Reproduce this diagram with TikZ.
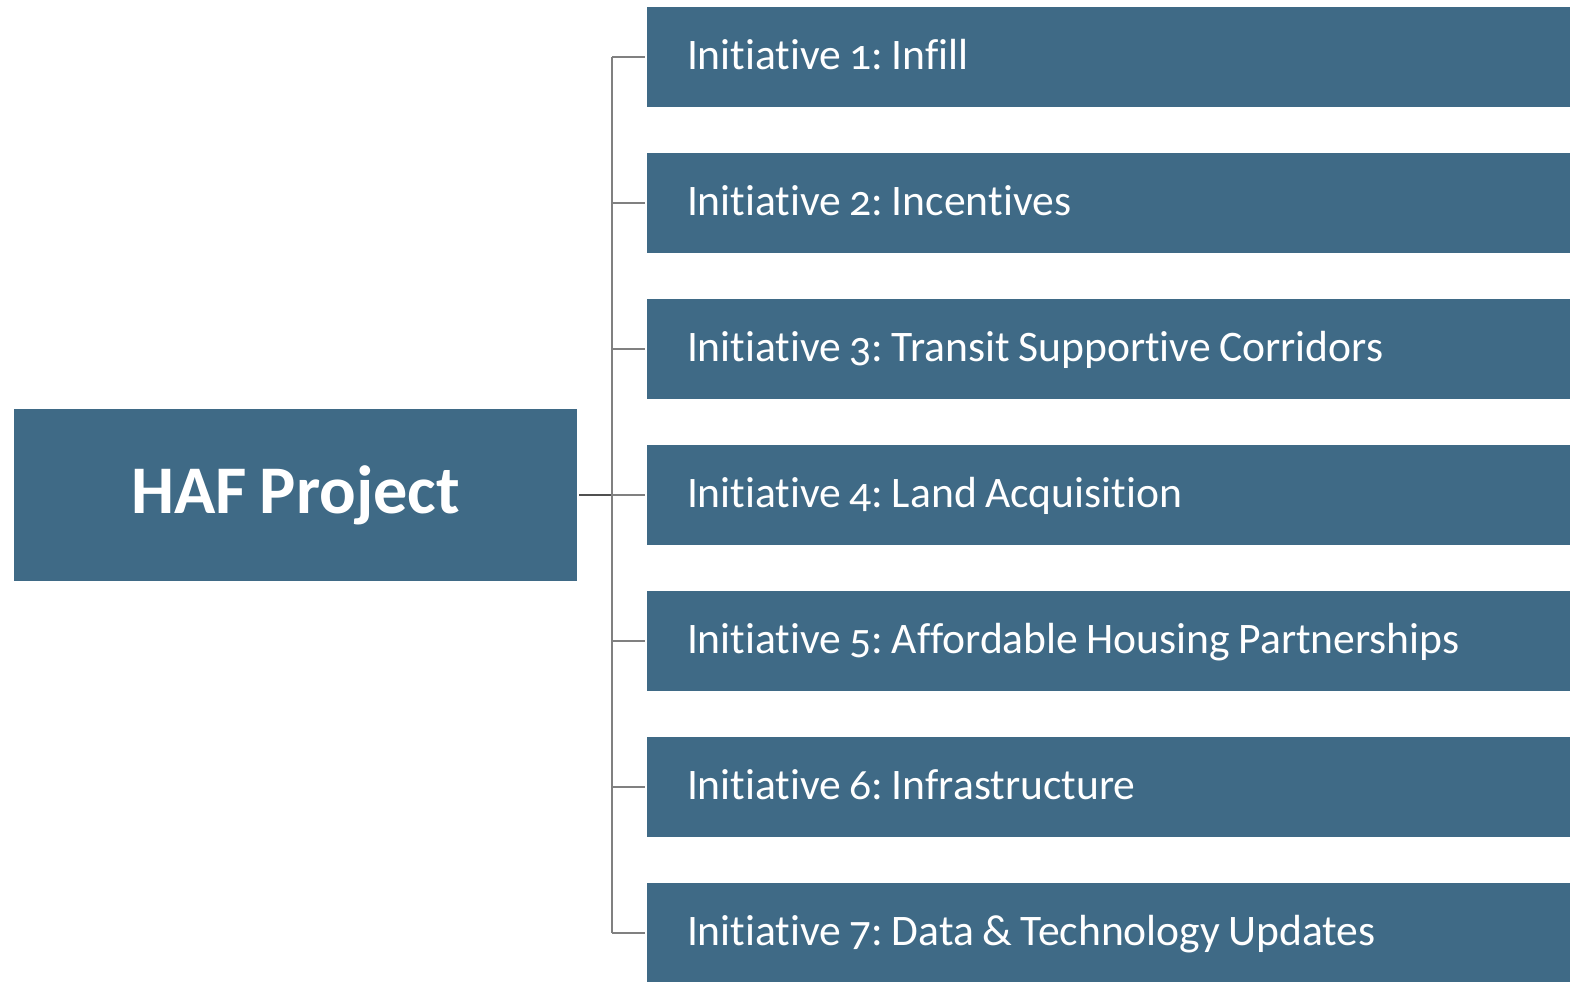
\documentclass[tikz,border=0pt]{standalone}
\usepackage{fontspec}
\setmainfont{Carlito}[Numbers=OldStyle,Ligatures=NoCommon,WordSpace=0.85]
\usetikzlibrary{positioning}
\definecolor{boxblue}{HTML}{3F6A86}
\definecolor{linegray}{HTML}{808080}
\definecolor{stubgray}{HTML}{505050}

\begin{document}
\frenchspacing
\begin{tikzpicture}
  \tikzset{
      project/.style={rectangle, fill=boxblue, text=white, minimum width=5.63cm, minimum height=1.72cm, inner sep=0pt, outer sep=0pt, text height=10.8pt, text depth=0pt, font=\fontsize{19.4}{23}\selectfont\bfseries},
      initiative/.style={rectangle, fill=boxblue, text=white, anchor=west, minimum height=1cm, text width=8.43cm, inner xsep=0.4cm, inner ysep=0pt, outer sep=0pt, align=left, text height=6.9pt, text depth=0pt, font=\fontsize{12.4}{15}\selectfont, execute at begin node={\spaceskip=0pt\xspaceskip=0pt}},
      branch/.style={draw=linegray, line width=0.45pt},
  }
  \useasboundingbox (0,0) rectangle (15.7,-9.81);
  \clip (0,0) rectangle (15.7,-9.81);
  \node[project] (project) at (2.955,-4.95) {HAF Project};
  \node[initiative] (init1) at (6.47,-0.57) {Initiative 1: Infill};
  \node[initiative, below=0.46cm of init1.south west, anchor=north west] (init2) {Initiative 2: Incentives};
  \node[initiative, below=0.46cm of init2.south west, anchor=north west] (init3) {Initiative 3: Transit Supportive Corridors};
  \node[initiative, below=0.46cm of init3.south west, anchor=north west] (init4) {Initiative 4: Land Acquisition};
  \node[initiative, below=0.46cm of init4.south west, anchor=north west] (init5) {Initiative 5: Affordable Housing Partnerships};
  \node[initiative, below=0.46cm of init5.south west, anchor=north west] (init6) {Initiative 6: Infrastructure};
  \node[initiative, below=0.46cm of init6.south west, anchor=north west] (init7) {Initiative 7: Data \& Technology Updates};
  \coordinate (bus) at (6.12,-4.95);
  \draw[stubgray, line width=0.7pt, shorten <=0.02cm] (project.east) -- (bus);
  \path[branch] (bus |- init1.west) -- (bus |- init7.west);
  \foreach \i in {1,...,7}
    \path[branch, shorten >=0.02cm] (bus |- init\i.west) -- (init\i.west);
\end{tikzpicture}
\end{document}
